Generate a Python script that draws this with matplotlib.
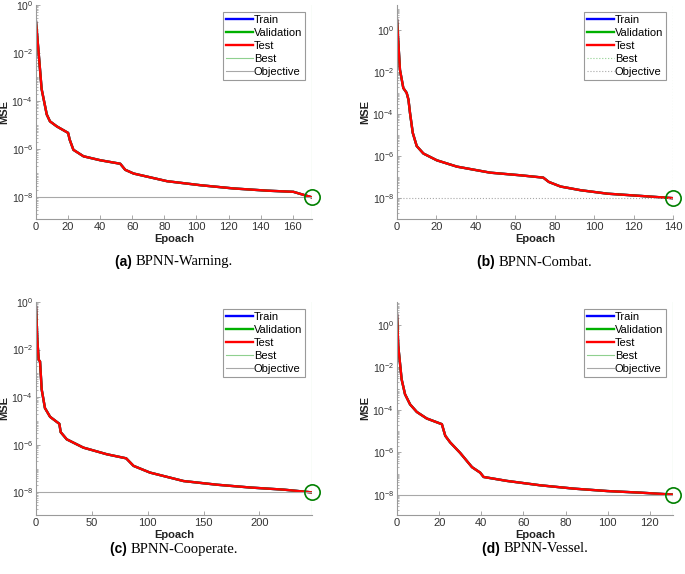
import numpy as np
import matplotlib
matplotlib.use("Agg")
import matplotlib.pyplot as plt
from matplotlib.ticker import LogLocator, FixedLocator, NullFormatter

plt.rcParams['font.family'] = ['Liberation Sans', 'DejaVu Sans']
plt.rcParams['mathtext.fontset'] = 'custom'
plt.rcParams['mathtext.rm'] = 'Liberation Sans'

# values (epoch, MSE)
ep_a = [0, 1.5, 3.5, 6.7, 8.7, 13, 20, 21, 23.3, 29.6, 40, 52.5, 55.6, 60.8, 81.7, 102.5, 123, 144, 160.4, 172]
mse_a = [0.2, 1.35e-2, 3.2e-4, 2.8e-5, 1.45e-5, 8.9e-6, 4.8e-6, 2.5e-6, 9.5e-7, 5.1e-7,
         3.5e-7, 2.5e-7, 1.4e-7, 9.8e-8, 4.7e-8, 3.2e-8, 2.35e-8, 1.9e-8, 1.7e-8, 1.0e-8]

ep_b = [0, 0.7, 1.5, 3.2, 4.9, 5.8, 6.6, 8, 10, 13.4, 20.2, 30.4, 47.3, 62.6, 74.2, 77, 83, 93,
        106.8, 123.7, 140]
mse_b = [3.0, 0.23, 1.25e-2, 1.7e-3, 1.0e-3, 4.8e-4, 1.1e-4, 1.25e-5, 2.95e-6, 1.3e-6, 6.2e-7,
         3.1e-7, 1.6e-7, 1.2e-7, 9.3e-8, 5.8e-8, 3.5e-8, 2.35e-8, 1.6e-8, 1.25e-8, 9.8e-9]

ep_c = [0, 1.2, 2.4, 3.6, 5.1, 8, 12.6, 20.9, 22.1, 27.5, 42.4, 63.4, 80.7, 87.3, 102, 132, 162,
        192, 222, 247]
mse_c = [0.63, 2.6e-2, 3.7e-3, 3.2e-3, 2.1e-4, 3.5e-5, 1.5e-5, 7.6e-6, 3.4e-6, 1.7e-6, 7.6e-7,
         4.0e-7, 2.7e-7, 1.3e-7, 6.8e-8, 3.0e-8, 2.1e-8, 1.6e-8, 1.3e-8, 1.0e-8]

ep_d = [0, 0.6, 2.2, 3.8, 6.2, 9.4, 14.1, 21.3, 22.9, 25.2, 30, 35.6, 39.5, 41.1, 52.2, 68, 84,
        99.9, 115.7, 131]
mse_d = [3.0, 9.8e-2, 2.7e-3, 5.4e-4, 1.8e-4, 7.9e-5, 3.9e-5, 2.1e-5, 6.0e-6, 2.95e-6, 9.3e-7,
         2.0e-7, 1.1e-7, 6.9e-8, 4.5e-8, 2.8e-8, 1.95e-8, 1.5e-8, 1.26e-8, 1.02e-8]

best_ep = [172, 140, 247, 131]
goal = 1e-8
xticks = [np.arange(0, 161, 20), np.arange(0, 141, 20), np.arange(0, 201, 50), np.arange(0, 121, 20)]
ylims = [(10**-8.9, 1.0), (10**-9.0, 10**1.18), (10**-8.95, 1.0), (10**-8.95, 10**1.07)]
captions = [("(a)", "BPNN-Warning."), ("(b)", "BPNN-Combat."),
            ("(c)", "BPNN-Cooperate."), ("(d)", "BPNN-Vessel.")]
dotted = [False, True, False, False]

W, H = 685, 574
fig = plt.figure(figsize=(W / 100, H / 100), dpi=100)

# left, right, top, bottom in pixels
boxes = [(36, 312, 5, 219), (397, 673, 5, 219), (36, 312, 302, 515), (397, 673, 302, 515)]
cap_y = [262, 262, 549, 549]
datas = [(ep_a, mse_a), (ep_b, mse_b), (ep_c, mse_c), (ep_d, mse_d)]

cap_pairs = []
for i in range(4):
    l, r, t, b = boxes[i]
    ax = fig.add_axes([l / W, 1 - b / H, (r - l) / W, (b - t) / H])
    ep, mse = datas[i]
    ls = ':' if dotted[i] else '-'
    ax.plot(ep, mse, color='#0000ff', lw=1.7, label='Train')
    ax.plot(ep, mse, color='#00b000', lw=1.7, label='Validation')
    ax.plot(ep, mse, color='#ff0000', lw=1.7, label='Test')
    ax.axvline(best_ep[i], color='#8fd08f', lw=0.8, ls=ls, label='Best')
    ax.axhline(goal, color='#a8a8a8', lw=0.8, ls=ls, label='Objective')
    ax.plot([best_ep[i]], [mse[-1]], 'o', mfc='none', mec='#008000', ms=11, mew=1.2, clip_on=False)
    ax.set_yscale('log')
    ax.set_xlim(0, best_ep[i])
    ax.set_ylim(*ylims[i])
    ax.yaxis.set_major_locator(FixedLocator([10.0 ** k for k in range(-8, 1, 2)]))
    ax.set_yticklabels([r'$\mathregular{10^{%d}}$' % k for k in range(-8, 1, 2)])
    ax.yaxis.set_minor_locator(LogLocator(base=10, subs=np.arange(1, 10), numticks=50))
    ax.yaxis.set_minor_formatter(NullFormatter())
    ax.set_xticks(xticks[i])
    for s in ['top', 'right']:
        ax.spines[s].set_visible(False)
    for s in ['left', 'bottom']:
        ax.spines[s].set_color('#9a9a9a')
        ax.spines[s].set_linewidth(0.8)
    ax.tick_params(direction='in', length=3, width=0.6, colors='#9a9a9a', labelcolor='#333333',
                   labelsize=8, pad=2.5)
    ax.tick_params(axis='y', labelsize=7.5, pad=2)
    ax.tick_params(which='minor', direction='in', length=1.5, width=0.5, colors='#9a9a9a')
    ax.set_xlabel('Epoach', fontsize=8, fontweight='bold', color='#222222', labelpad=1)
    ax.set_ylabel('MSE', fontsize=8, fontweight='bold', color='#222222')
    ax.yaxis.set_label_coords(-27 / (r - l), 0.5)
    leg = ax.legend(loc='upper right', bbox_to_anchor=(1 - 7 / (r - l), 1 - 7 / (b - t)),
                    borderaxespad=0, fontsize=8, handlelength=2.4, handletextpad=0.1,
                    labelspacing=0.28, borderpad=0.25, fancybox=False, framealpha=1)
    leg.get_frame().set_edgecolor('#9a9a9a')
    leg.get_frame().set_linewidth(0.8)
    cx = (l + r) / 2 / W
    cy = 1 - cap_y[i] / H
    lab, name = captions[i]
    t1 = fig.text(cx, cy, lab + " ", ha='right', va='center', fontsize=10, fontweight='bold')
    t2 = fig.text(cx, cy, name, ha='left', va='center', fontsize=10.5, family='Liberation Serif')
    cap_pairs.append((cx, t1, t2))

# center each two-part caption under its panel
fig.canvas.draw()
rend = fig.canvas.get_renderer()
for cx, t1, t2 in cap_pairs:
    w1 = t1.get_window_extent(rend).width / W
    w2 = t2.get_window_extent(rend).width / W
    split = cx - (w1 + w2) / 2 + w1
    t1.set_x(split)
    t2.set_x(split)

fig.savefig('out.png', dpi=100)
